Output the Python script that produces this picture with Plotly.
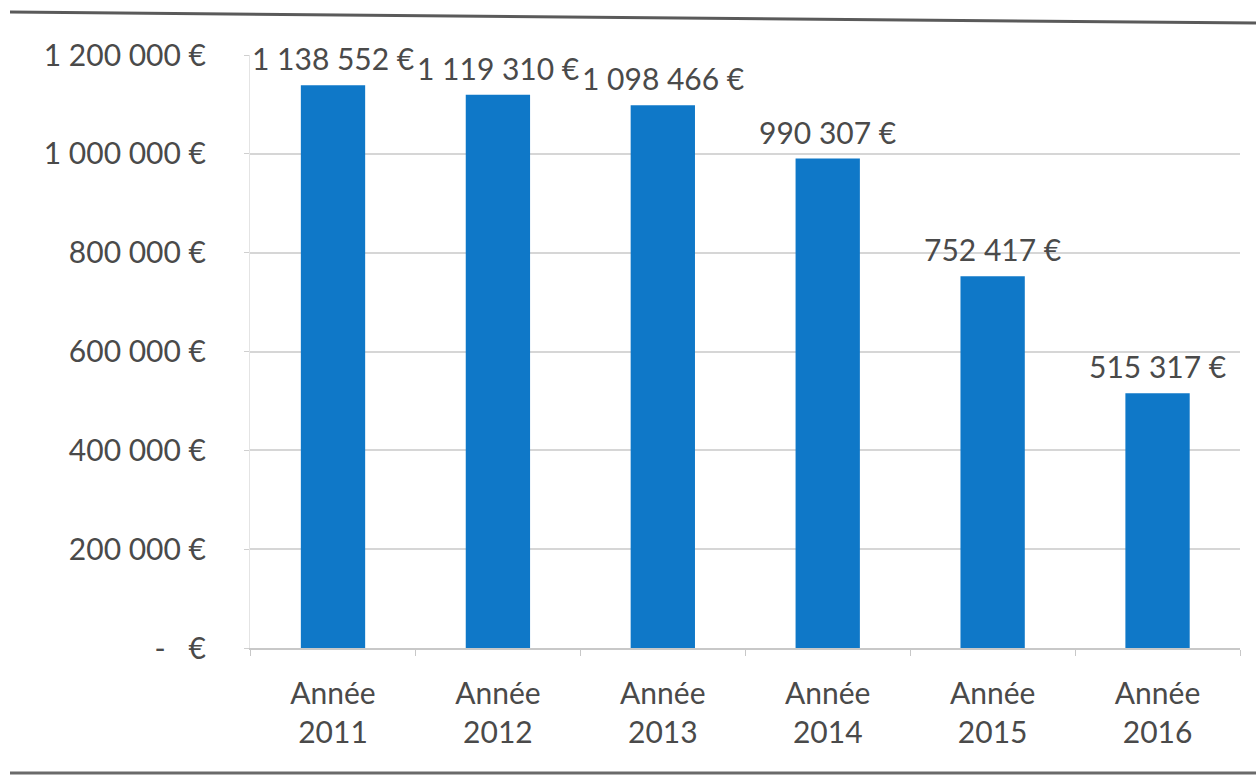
import plotly.graph_objects as go

categories = ["Année<br>2011", "Année<br>2012", "Année<br>2013", "Année<br>2014", "Année<br>2015", "Année<br>2016"]
values = [1138552, 1119310, 1098466, 990307, 752417, 515317]
y_tickvals = [0, 200000, 400000, 600000, 800000, 1000000, 1200000]
y_ticktext = ["-\u00a0\u00a0\u00a0€", "200 000 €", "400 000 €", "600 000 €", "800 000 €", "1 000 000 €", "1 200 000 €"]

W, H = 1256, 778
L, R, T, B = 250, 16, 55, 130
FONT = "Lato, 'Open Sans', sans-serif"
TXT = "#4a4a4a"
BAR = "#0f78c8"


def px(x):
    return (x - L) / (W - L - R)


def py(y):
    return (H - B - y) / (H - T - B)


def fmt(v):
    return f"{v:,}".replace(",", " ") + " €"


fig = go.Figure()
fig.add_trace(go.Bar(x=categories, y=values, marker=dict(color=BAR, line=dict(width=0)),
                     width=0.39, hoverinfo="skip"))

for c, v in zip(categories, values):
    fig.add_annotation(x=c, y=v, text=fmt(v), showarrow=False, yanchor="bottom", yshift=7,
                       font=dict(family=FONT, size=30, color=TXT))

# scan frame lines
fig.add_shape(type="line", xref="paper", yref="paper", x0=px(10), y0=py(12), x1=px(1256), y1=py(23),
              line=dict(color="#5a5a5a", width=3))
fig.add_shape(type="line", xref="paper", yref="paper", x0=px(10), y0=py(773), x1=px(1256), y1=py(773),
              line=dict(color="#6a6a6a", width=3))

fig.update_layout(
    width=W, height=H,
    margin=dict(l=L, r=R, t=T, b=B),
    paper_bgcolor="white", plot_bgcolor="white",
    showlegend=False,
    font=dict(family=FONT, size=30, color=TXT),
    xaxis=dict(showgrid=False, showline=True, linecolor="#c8c8c8", linewidth=1.5,
               ticks="outside", tickson="boundaries", ticklen=6, tickcolor="#c8c8c8",
               ticklabelstandoff=18,
               tickfont=dict(family=FONT, size=30, color=TXT)),
    yaxis=dict(range=[0, 1200000], tickvals=y_tickvals, ticktext=y_ticktext,
               showgrid=True, gridcolor="#d6d6d6", gridwidth=1.5, zeroline=False,
               showline=True, linecolor="#e4e4e4", linewidth=1,
               ticks="outside", ticklen=5, tickcolor="#cfcfcf",
               ticklabelstandoff=32,
               tickfont=dict(family=FONT, size=30, color=TXT)),
)

fig.write_html("out.html")
